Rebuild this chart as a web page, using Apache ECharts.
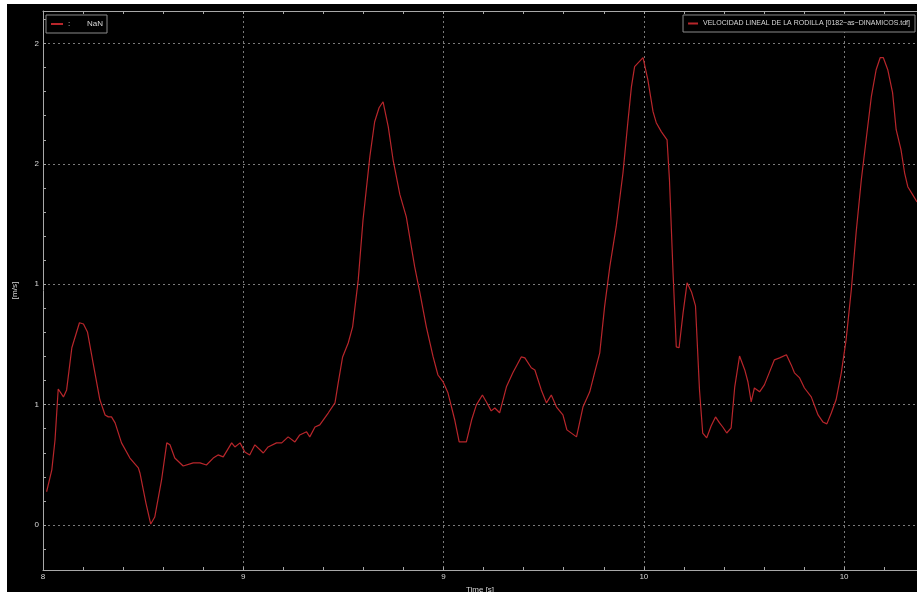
<!DOCTYPE html>
<html>
<head>
<meta charset="utf-8" />
<script src="https://cdn.jsdelivr.net/npm/echarts@6/dist/echarts.min.js"></script>
<style>
  html, body { margin: 0; padding: 0; background: #fff; }
  #chart { position: absolute; left: 7px; top: 4px; width: 910px; height: 588px; background: #000; }
</style>
</head>
<body>
<div id="chart"></div>
<script>
const seriesName = "VELOCIDAD LINEAL DE LA RODILLA [0182~as~DINAMICOS.tdf]";

// time [s]
const times = [
  8.009, 8.022, 8.030, 8.038, 8.051, 8.059, 8.072, 8.091, 8.101, 8.111,
  8.125, 8.142, 8.155, 8.163, 8.171, 8.180, 8.196, 8.217, 8.238, 8.242,
  8.257, 8.269, 8.279, 8.296, 8.309, 8.317, 8.329, 8.350, 8.375, 8.392,
  8.408, 8.425, 8.437, 8.450, 8.471, 8.479, 8.492, 8.504, 8.516, 8.529,
  8.550, 8.562, 8.583, 8.596, 8.612, 8.629, 8.641, 8.658, 8.666, 8.679,
  8.691, 8.712, 8.729, 8.737, 8.748, 8.762, 8.773, 8.787, 8.799, 8.816,
  8.828, 8.839, 8.849, 8.862, 8.874, 8.891, 8.907, 8.928, 8.941, 8.957,
  8.974, 8.986, 8.999, 9.011, 9.028, 9.039, 9.057, 9.070, 9.082, 9.097,
  9.107, 9.119, 9.128, 9.140, 9.157, 9.173, 9.194, 9.203, 9.219, 9.228,
  9.244, 9.257, 9.269, 9.282, 9.298, 9.308, 9.332, 9.348, 9.365, 9.377,
  9.390, 9.402, 9.415, 9.431, 9.448, 9.460, 9.469, 9.477, 9.498, 9.510,
  9.523, 9.531, 9.544, 9.558, 9.564, 9.573, 9.581, 9.588, 9.598, 9.608,
  9.619, 9.629, 9.639, 9.647, 9.657, 9.668, 9.679, 9.689, 9.697, 9.707,
  9.718, 9.727, 9.739, 9.752, 9.760, 9.768, 9.776, 9.789, 9.801, 9.814,
  9.826, 9.839, 9.856, 9.868, 9.876, 9.889, 9.901, 9.918, 9.935, 9.947,
  9.957, 9.968, 9.980, 9.993, 10.005, 10.018, 10.030, 10.043, 10.055, 10.068,
  10.080, 10.090, 10.098, 10.109, 10.121, 10.130, 10.142, 10.151, 10.159, 10.171,
  10.182,
];

// velocidad [m/s]
const speed = [
  0.138, 0.229, 0.353, 0.565, 0.532, 0.561, 0.736, 0.840, 0.835, 0.802,
  0.673, 0.520, 0.457, 0.449, 0.449, 0.424, 0.341, 0.278, 0.237, 0.216,
  0.091, 0.004, 0.033, 0.187, 0.341, 0.333, 0.278, 0.245, 0.258, 0.258,
  0.249, 0.278, 0.291, 0.283, 0.341, 0.324, 0.341, 0.303, 0.291, 0.333,
  0.299, 0.324, 0.341, 0.341, 0.366, 0.345, 0.374, 0.387, 0.366, 0.407,
  0.416, 0.465, 0.507, 0.590, 0.698, 0.756, 0.823, 1.018, 1.268, 1.530,
  1.675, 1.733, 1.758, 1.654, 1.517, 1.372, 1.280, 1.072, 0.964, 0.823,
  0.698, 0.623, 0.594, 0.549, 0.436, 0.345, 0.345, 0.436, 0.499, 0.540,
  0.511, 0.474, 0.486, 0.466, 0.574, 0.632, 0.698, 0.694, 0.653, 0.644,
  0.561, 0.507, 0.540, 0.490, 0.457, 0.395, 0.366, 0.490, 0.553, 0.632,
  0.715, 0.906, 1.072, 1.239, 1.463, 1.671, 1.820, 1.904, 1.941, 1.850,
  1.717, 1.671, 1.633, 1.600, 1.434, 1.047, 0.740, 0.736, 0.881, 1.006,
  0.968, 0.910, 0.561, 0.382, 0.362, 0.411, 0.449, 0.424, 0.407, 0.382,
  0.403, 0.574, 0.702, 0.644, 0.594, 0.511, 0.569, 0.553, 0.582, 0.636,
  0.686, 0.694, 0.707, 0.665, 0.632, 0.611, 0.569, 0.532, 0.457, 0.428,
  0.420, 0.465, 0.520, 0.632, 0.769, 0.977, 1.214, 1.434, 1.600, 1.779,
  1.891, 1.941, 1.941, 1.891, 1.796, 1.642, 1.559, 1.463, 1.405, 1.372,
  1.342,
];

// axis ticks
const yMajor = [0, 0.5, 1, 1.5, 2];
const yMinor = [-0.1, 0.1, 0.2, 0.3, 0.4, 0.6, 0.7, 0.8, 0.9, 1.1, 1.2, 1.3, 1.4, 1.6, 1.7, 1.8, 1.9, 2.1];
const xMin = 8, xMax = 10.182, xStep = 0.5;
const yMin = -0.187, yMax = 2.135;

const font = "'Liberation Sans', Arial, sans-serif";
const textColor = "#d8d8d8";
const axisColor = "#a8a8a8";
const red = "#b8262b";

const chart = echarts.init(document.getElementById("chart"));

const roundLabel = (v) => String(Math.round(v));

const option = {
  backgroundColor: "#000",
  animation: false,
  textStyle: { fontFamily: font },
  grid: { left: 36, right: 0, top: 7, bottom: 22, outerBoundsMode: "none" },
  legend: [
    {
      data: ["NaN"],
      left: 39,
      top: 11,
      orient: "vertical",
      backgroundColor: "#000",
      borderColor: "#8a8a8a",
      borderWidth: 1,
      padding: [5, 4, 5, 5],
      icon: "rect",
      itemWidth: 12,
      itemHeight: 2,
      formatter: () => "{a|:}{b|NaN}",
      textStyle: {
        color: textColor,
        fontSize: 8,
        rich: {
          a: { color: textColor, fontSize: 8, width: 19 },
          b: { color: textColor, fontSize: 8 },
        },
      },
    },
    {
      data: [seriesName],
      right: 2,
      top: 11,
      backgroundColor: "#000",
      borderColor: "#8a8a8a",
      borderWidth: 1,
      padding: [5, 5, 5, 5],
      icon: "rect",
      itemWidth: 10,
      itemHeight: 2,
      textStyle: { color: textColor, fontSize: 7 },
    },
  ],
  xAxis: [
    {
      type: "value",
      min: xMin,
      max: xMax,
      interval: xStep,
      name: "Time [s]",
      nameLocation: "middle",
      nameGap: 16,
      nameMoveOverlap: false,
      nameTextStyle: { color: textColor, fontSize: 8 },
      axisLine: { onZero: false, lineStyle: { color: axisColor } },
      axisTick: { show: true, inside: true, length: 3, lineStyle: { color: axisColor } },
      minorTick: { show: true, splitNumber: 5, length: 3, lineStyle: { color: axisColor } },
      axisLabel: {
        color: textColor,
        fontSize: 8,
        margin: 3,
        showMaxLabel: false,
        formatter: roundLabel,
      },
      splitLine: { show: true, lineStyle: { color: "#7a7a7a", type: [2, 3], width: 1 } },
    },
    {
      type: "value",
      position: "top",
      min: xMin,
      max: xMax,
      interval: xStep,
      axisLine: { onZero: false, lineStyle: { color: axisColor } },
      axisTick: { show: true, inside: true, length: 3, lineStyle: { color: axisColor } },
      minorTick: { show: true, splitNumber: 5, length: 3, lineStyle: { color: axisColor } },
      axisLabel: { show: false },
      splitLine: { show: false },
    },
  ],
  yAxis: [
    {
      type: "value",
      min: yMin,
      max: yMax,
      name: "[m/s]",
      nameLocation: "middle",
      nameGap: 24,
      nameMoveOverlap: false,
      nameRotate: 90,
      nameTextStyle: { color: textColor, fontSize: 8 },
      axisLine: { show: true, onZero: false, lineStyle: { color: axisColor } },
      axisTick: { show: true, inside: true, length: 3, customValues: yMajor, lineStyle: { color: axisColor } },
      axisLabel: { color: textColor, fontSize: 8, margin: 4, customValues: yMajor, formatter: roundLabel },
      splitLine: { show: true, lineStyle: { color: "#7a7a7a", type: [2, 3], width: 1 } },
    },
    {
      type: "value",
      min: yMin,
      max: yMax,
      position: "left",
      axisLine: { show: false, onZero: false },
      axisTick: { show: true, inside: true, length: 3, customValues: yMinor, lineStyle: { color: axisColor } },
      axisLabel: { show: false },
      splitLine: { show: false },
    },
  ],
  series: [
    {
      name: seriesName,
      type: "line",
      xAxisIndex: 0,
      yAxisIndex: 0,
      showSymbol: false,
      color: red,
      lineStyle: { color: red, width: 1.2 },
      data: times.map((t, i) => [t, speed[i]]),
    },
    {
      name: "NaN",
      type: "line",
      showSymbol: false,
      color: red,
      data: [],
    },
  ],
};

chart.setOption(option);
</script>
</body>
</html>
